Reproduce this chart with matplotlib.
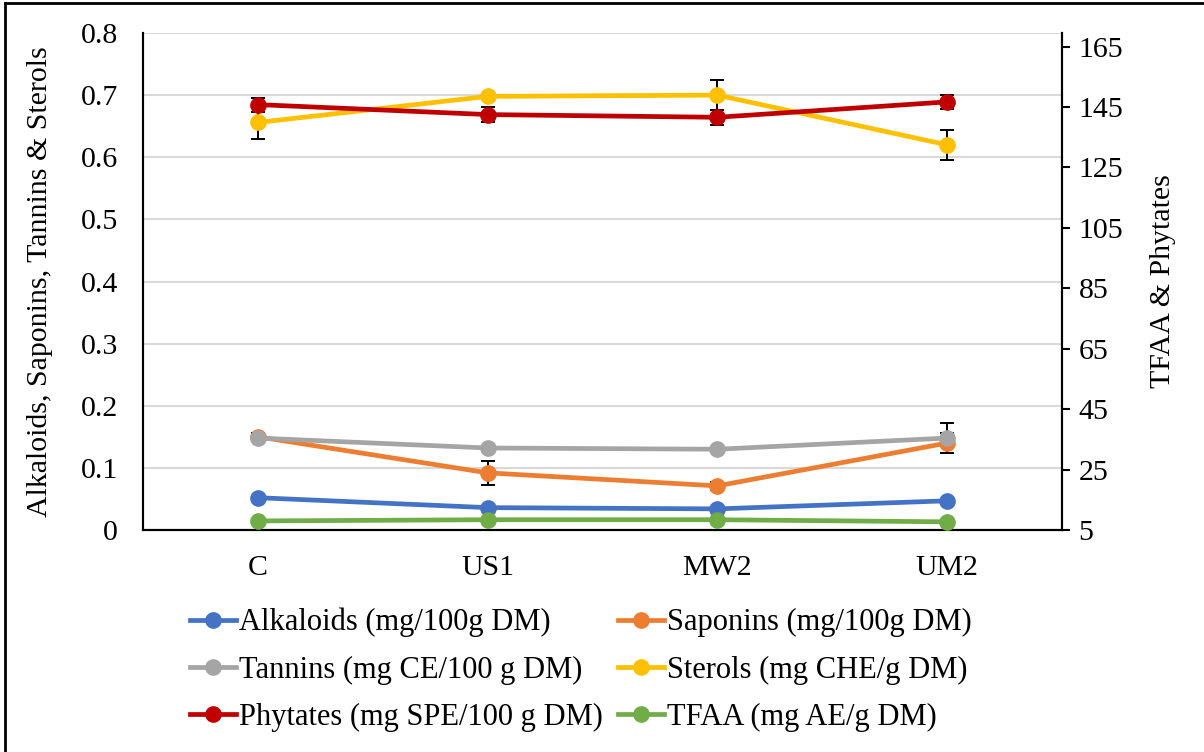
import matplotlib.pyplot as plt
from matplotlib.lines import Line2D

plt.rcParams['font.family'] = ['Liberation Serif', 'DejaVu Serif']

# treatments
cats = ['C', 'US1', 'MW2', 'UM2']

# left axis series
alkaloids = [0.052, 0.036, 0.034, 0.047]
alkaloids_err = [0.002, 0.002, 0.002, 0.002]
saponins = [0.150, 0.092, 0.071, 0.140]
saponins_err = [0.006, 0.019, 0.007, 0.016]
tannins = [0.148, 0.132, 0.130, 0.148]
tannins_err = [0.004, 0.003, 0.003, 0.024]
sterols = [0.656, 0.698, 0.700, 0.620]
sterols_err = [0.026, 0.004, 0.024, 0.024]

# right axis series
phytates = [145.8, 142.5, 141.6, 146.7]
phytates_err = [2.3, 2.5, 2.5, 2.2]
tfaa = [8.0, 8.4, 8.4, 7.7]
tfaa_err = [0.2, 0.2, 0.2, 0.2]

labels = ['Alkaloids (mg/100g DM)', 'Saponins (mg/100g DM)',
          'Tannins (mg CE/100 g DM)', 'Sterols (mg CHE/g DM)',
          'Phytates (mg SPE/100 g DM)', 'TFAA (mg AE/g DM)']
colors = ['#4472C4', '#ED7D31', '#A5A5A5', '#FFC000', '#C00000', '#70AD47']

fig = plt.figure(figsize=(12.04, 7.52), dpi=100)
ax = fig.add_axes([143 / 1204, 1 - 530 / 752, (1062 - 143) / 1204, (530 - 33) / 752])
ax2 = ax.twinx()

x = list(range(len(cats)))
fs = 21.5

def draw(a, vals, errs, col):
    a.errorbar(x, vals, yerr=errs, fmt='none', ecolor='black', elinewidth=1.4,
               capsize=5, capthick=1.4, zorder=2)
    a.plot(x, vals, color=col, lw=3.4, marker='o', ms=11, zorder=3)

left = [(alkaloids, alkaloids_err), (saponins, saponins_err),
        (tannins, tannins_err), (sterols, sterols_err)]
for (v, e), c in zip(left, colors[:4]):
    draw(ax, v, e, c)
draw(ax2, phytates, phytates_err, colors[4])
draw(ax2, tfaa, tfaa_err, colors[5])

ax.set_xlim(-0.5, 3.5)
ax.set_ylim(0, 0.8)
ax.set_yticks([0, 0.1, 0.2, 0.3, 0.4, 0.5, 0.6, 0.7, 0.8])
ax.set_yticklabels(['0', '0.1', '0.2', '0.3', '0.4', '0.5', '0.6', '0.7', '0.8'])
ax.yaxis.grid(True, color='#D9D9D9', lw=1.5)
ax.set_axisbelow(True)
ax.set_xticks(x)
ax.set_xticklabels(cats)
ax.tick_params(axis='x', length=0, pad=18, labelsize=fs)
ax.tick_params(axis='y', length=0, pad=18, labelsize=fs)
ax.set_ylabel('Alkaloids, Saponins, Tannins & Sterols', fontsize=fs, labelpad=20)

ax2.set_ylim(5, 169.5)
ax2.set_yticks(range(5, 166, 20))
ax2.tick_params(axis='y', length=6, width=1.5, direction='out', pad=6, labelsize=fs)
ax2.set_ylabel('TFAA & Phytates', fontsize=fs, labelpad=19)

for a in (ax, ax2):
    a.spines['top'].set_visible(False)
    for s in ('left', 'right', 'bottom'):
        a.spines[s].set_linewidth(1.5)
        a.spines[s].set_color('black')

# legend fills column-wise, so reorder to read row by row
handles = [Line2D([], [], color=c, lw=3.4, marker='o', ms=11) for c in colors]
order = [0, 2, 4, 1, 3, 5]
fig.legend([handles[i] for i in order], [labels[i] for i in order],
           loc='center', bbox_to_anchor=(581 / 1204, 1 - 670 / 752),
           ncol=2, frameon=False, fontsize=22, handlelength=1.5, handletextpad=0.1,
           columnspacing=0.5, labelspacing=0.6, borderpad=0)

# outer chart border (top and left edges)
fig.add_artist(Line2D([0.004, 1], [0.996, 0.996], color='black', lw=2, transform=fig.transFigure))
fig.add_artist(Line2D([0.004, 0.004], [0, 0.996], color='black', lw=2, transform=fig.transFigure))

fig.savefig('out.png', dpi=100)
